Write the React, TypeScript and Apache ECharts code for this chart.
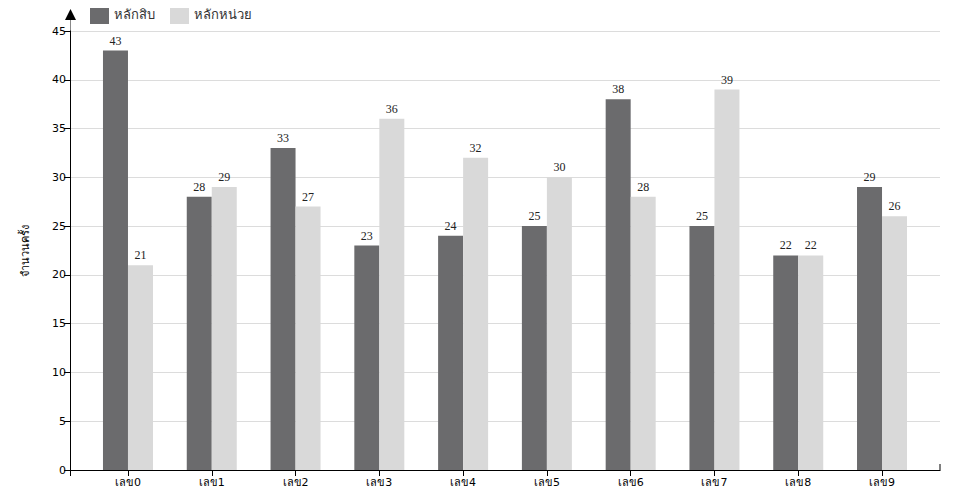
import React, { useEffect, useRef } from "react";
import * as echarts from "echarts";

const categories = ["เลข0", "เลข1", "เลข2", "เลข3", "เลข4", "เลข5", "เลข6", "เลข7", "เลข8", "เลข9"];
const tensValues = [43, 28, 33, 23, 24, 25, 38, 25, 22, 29];
const unitsValues = [21, 29, 27, 36, 32, 30, 28, 39, 22, 26];
const seriesNames = ["หลักสิบ", "หลักหน่วย"];
const yAxisName = "จำนวนครั้ง";

const X_MIN = -0.692;
const X_MAX = 9.692;

export default function App() {
  const ref = useRef<HTMLDivElement>(null);
  useEffect(() => {
    if (!ref.current) return;
    const chart = echarts.init(ref.current, null, { renderer: "svg" });
    const idx = categories.map((_, i) => i);
    const sans = "DejaVu Sans";
    const makeLabel = () => ({
      show: true,
      position: "top" as const,
      distance: 4,
      fontFamily: "Liberation Serif",
      fontSize: 12,
      color: "#222",
    });
    chart.setOption({
      animation: false,
      grid: { left: 70, right: 20, top: 31, bottom: 30, containLabel: false },
      legend: {
        left: 85,
        top: 0,
        itemWidth: 19,
        itemHeight: 19,
        itemGap: 15,
        icon: "rect",
        textStyle: { fontFamily: sans, fontSize: 13, color: "#333" },
        data: seriesNames,
      },
      xAxis: {
        type: "value",
        min: X_MIN,
        max: X_MAX,
        splitLine: { show: false },
        axisLine: { show: true, onZero: false, lineStyle: { color: "#000", width: 1 } },
        axisTick: {
          show: true,
          length: 6,
          lineStyle: { color: "#000" },
          customValues: [X_MIN, ...idx],
        },
        axisLabel: {
          customValues: idx,
          formatter: (v: number) => categories[Math.round(v)] ?? "",
          fontFamily: sans,
          fontSize: 11,
          color: "#000",
          margin: 7,
        },
      },
      yAxis: {
        type: "value",
        min: 0,
        max: 45,
        interval: 5,
        name: yAxisName,
        nameLocation: "middle",
        nameRotate: 90,
        nameGap: 39,
        nameTextStyle: { fontFamily: sans, fontSize: 11, color: "#000" },
        axisLine: { show: true, onZero: false, lineStyle: { color: "#000", width: 1 } },
        axisTick: { show: true, length: 6, lineStyle: { color: "#000" } },
        axisLabel: { fontFamily: sans, fontSize: 11, color: "#000", margin: 4 },
        splitLine: { show: true, lineStyle: { color: "#dcdcdc", width: 1 } },
      },
      series: [
        {
          name: seriesNames[0],
          type: "bar",
          barWidth: 25,
          barGap: "0%",
          itemStyle: { color: "#6b6b6d" },
          label: makeLabel(),
          data: tensValues.map((v, i) => [i, v]),
        },
        {
          name: seriesNames[1],
          type: "bar",
          barWidth: 25,
          barGap: "0%",
          itemStyle: { color: "#d9d9d9" },
          label: makeLabel(),
          data: unitsValues.map((v, i) => [i, v]),
        },
      ],
      graphic: [
        {
          type: "line",
          shape: { x1: 70.5, y1: 31, x2: 70.5, y2: 19 },
          style: { stroke: "#888", lineWidth: 1 },
        },
        {
          type: "line",
          shape: { x1: 70.5, y1: 31, x2: 70.5, y2: 470.5 },
          style: { stroke: "#000", lineWidth: 1 },
        },
        {
          type: "polygon",
          shape: { points: [[70.5, 9], [65, 20], [76, 20]] },
          style: { fill: "#000" },
        },
        {
          type: "line",
          shape: { x1: 940, y1: 470.5, x2: 940, y2: 464 },
          style: { stroke: "#000", lineWidth: 1 },
        },
      ],
    });
    return () => chart.dispose();
  }, []);
  return <div ref={ref} style={{ width: 960, height: 500, margin: -8 }} />;
}
